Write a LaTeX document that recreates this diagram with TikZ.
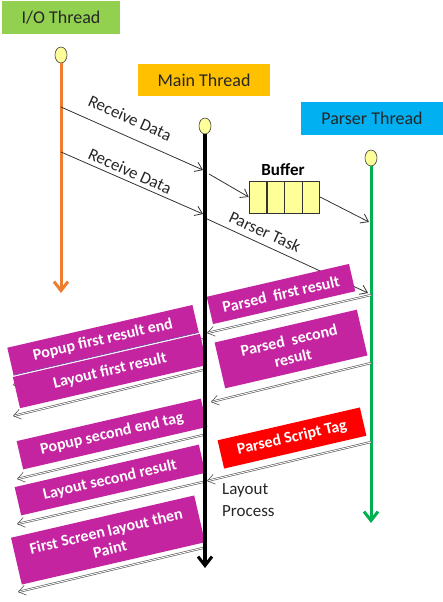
\documentclass[tikz,border=0pt]{standalone}
\usepackage{fontspec}
\setmainfont{Carlito}
\usetikzlibrary{arrows.meta,shapes.geometric}
\definecolor{iogreen}{HTML}{92D050}
\definecolor{maingold}{HTML}{FFC000}
\definecolor{parserblue}{HTML}{00B0F0}
\definecolor{ioorange}{HTML}{ED7D31}
\definecolor{parsegreen}{HTML}{00B050}
\definecolor{dotyellow}{HTML}{FFFF99}
\definecolor{boxmag}{RGB}{196,36,160}
\definecolor{boxred}{HTML}{FF0000}
\definecolor{msggray}{HTML}{333333}
\definecolor{seamline}{HTML}{7030A0}
\tikzset{
  threadlabel/.style={fill=#1, font=\fontsize{18}{21}\selectfont, text=black!85, inner sep=0pt, minimum height=33pt},
  lifedot/.style={ellipse, draw=black!75, fill=dotyellow, minimum width=12pt, minimum height=16pt, inner sep=0pt, line width=0.6pt},
  lifeline/.style={draw=#1, line width=3pt, -{Straight Barb[length=9pt,width=14pt,line width=3pt]}},
  msg/.style={draw=msggray, line width=0.8pt, -{Straight Barb[length=7pt,width=10pt]}},
  retmsg/.style={draw=msggray!85, line width=0.6pt, double=white, double distance=0.9pt, -{Straight Barb[length=7pt,width=10pt]}},
  msglabel/.style={font=\fontsize{17}{19}\selectfont, text=black!85, inner sep=0pt},
  mbox/.style={fill=#1, text=white, font=\bfseries\fontsize{16}{18}\selectfont, align=center, inner sep=0pt, rotate=13},
  bufcell/.style={draw=black!80, fill=dotyellow, minimum width=17.25pt, minimum height=32pt, inner sep=0pt, line width=0.6pt}
}
\begin{document}
\begin{tikzpicture}[x=1pt,y=-1pt]
\useasboundingbox (0,0) rectangle (443,602);
% thread headers
\node[threadlabel=iogreen, minimum width=118pt] (iot) at (61,18) {I/O Thread};
\node[threadlabel=maingold, minimum width=132pt, minimum height=32pt] (mt) at (204,80) {Main Thread};
\node[threadlabel=parserblue, minimum width=142pt] (pt) at (372,118.5) {Parser Thread};
% lifeline heads
\node[lifedot] (iodot) at (61,55) {};
\node[lifedot] (mdot) at (205,126) {};
\node[lifedot] (pdot) at (371,158) {};
\coordinate (ioend) at (61,293);
\coordinate (mend) at (205,568);
\coordinate (pend) at (371,523);
\draw[lifeline=ioorange] (iodot.south) -- (ioend);
\draw[lifeline=parsegreen] (pdot.south) -- (pend);
% message endpoints
\coordinate (io1) at (61,107);  \coordinate (m1) at (203,170);
\coordinate (io2) at (61,152);  \coordinate (m2) at (203,214);
\coordinate (mb) at (209,174);
\coordinate (p1) at (369,222);
\coordinate (m3) at (205,218);  \coordinate (p2) at (368,293);
\coordinate (p3) at (371,295);  \coordinate (m4) at (207,333);
\coordinate (p4) at (371,363);  \coordinate (m5) at (211,402);
\coordinate (p5) at (371,442);  \coordinate (m6) at (207,481);
\coordinate (m7) at (203,339);  \coordinate (io3) at (13,385);
\coordinate (m8) at (203,370);  \coordinate (io4) at (13,416);
\coordinate (m9) at (203,435);  \coordinate (io5) at (17,479);
\coordinate (m10) at (203,482); \coordinate (io6) at (17,524);
\coordinate (m11) at (203,548); \coordinate (io7) at (18,592);
% buffer
\node[bufcell] (buf1) at (257.6,197) {};
\node[bufcell, anchor=west] (buf2) at (buf1.east) {};
\node[bufcell, anchor=west] (buf3) at (buf2.east) {};
\node[bufcell, anchor=west] (buf4) at (buf3.east) {};
\node[font=\bfseries\fontsize{17}{19}\selectfont, inner sep=0pt] (buflabel) at (283,170) {Buffer};
% messages
\draw[msg] (io1) -- (m1);
\draw[msg] (io2) -- (m2);
\draw[msg] (mb) -- (buf1.west);
\draw[msg] (buf4.east) -- (p1);
\draw[msg] (m3) -- (p2);
\draw[retmsg] (p3) -- (m4);
\draw[retmsg] (p4) -- (m5);
\draw[retmsg] (p5) -- (m6);
\draw[retmsg] (m7) -- (io3);
\draw[retmsg] (m8) -- (io4);
\draw[retmsg] (m9) -- (io5);
\draw[retmsg] (m10) -- (io6);
\draw[retmsg] (m11) -- (io7);
\node[msglabel, rotate=-24] (rd1) at (130,118) {Receive Data};
\node[msglabel, rotate=-24] (rd2) at (130,171) {Receive Data};
\node[msglabel, rotate=-24.5] (ptask) at (265,232) {Parser Task};
% message boxes
\node[mbox=boxmag, minimum width=146pt, minimum height=28pt] (pfr) at (281,294) {Parsed~ first result};
\node[mbox=boxmag, minimum width=146pt, minimum height=47pt] (psr) at (291,349) {Parsed~ second\\result};
\node[mbox=boxred, minimum width=146pt, minimum height=29pt] (pst) at (292,438) {Parsed Script Tag};
\node[mbox=boxmag, minimum width=190pt, minimum height=28pt] (pfe) at (103,340) {Popup first result end};
\node[mbox=boxmag, minimum width=192pt, minimum height=32pt] (lfr) at (110,371) {Layout first result};
\draw[seamline, line width=0.6pt] (pfe.south west) -- (pfe.south east);
\node[mbox=boxmag, minimum width=189pt, minimum height=29pt] (pse) at (112,434) {Popup second end tag};
\node[mbox=boxmag, minimum width=189pt, minimum height=29pt] (lsr) at (110,480) {Layout second result};
\node[mbox=boxmag, minimum width=188pt, minimum height=48pt] (fsl) at (108,540) {First Screen layout then\\Paint};
% main lifeline on top
\draw[lifeline=black, line width=3.5pt] (mdot.south) -- (mend);
\node[font=\fontsize{17}{22}\selectfont, align=left, anchor=north west, inner sep=0pt, text=black!85] (lp) at (222,483) {Layout\\Process};
\end{tikzpicture}
\end{document}
